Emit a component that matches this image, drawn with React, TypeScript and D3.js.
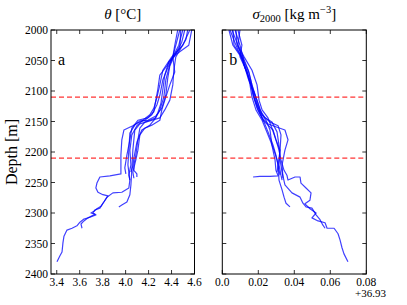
import React from "react";
import * as d3 from "d3";

type Pt = [number, number]; // [depth, value]

const thetaTicks = [3.4, 3.6, 3.8, 4.0, 4.2, 4.4, 4.6];
const sigmaTicks = [0.0, 0.02, 0.04, 0.06, 0.08];
const sigmaTickLabels = ["0.0", "0.02", "0.04", "0.06", "0.08"];
const depthTicks = [2000, 2050, 2100, 2150, 2200, 2250, 2300, 2350, 2400];
const refDepths = [2110, 2210];

const theta1: Pt[] = [[2000,4.472],[2025,4.437],[2044,4.411],[2062,4.367],[2082,4.324],[2107,4.298],[2123,4.272],[2139,4.228],[2148,4.167],[2152,4.107],[2157,4.063],[2164,3.985],[2180,3.967],[2205,3.959],[2230,3.959],[2236,3.959],[2239,3.863],[2241,3.776],[2251,3.750],[2259,3.741],[2266,3.759],[2270,3.802],[2272,3.846],[2277,3.828],[2284,3.802],[2292,3.776],[2295,3.733],[2300,3.715],[2303,3.741],[2307,3.689],[2310,3.637],[2315,3.602],[2321,3.576],[2325,3.533],[2328,3.489],[2338,3.463],[2349,3.454],[2364,3.446],[2370,3.428],[2380,3.402]];
const theta2: Pt[] = [[2000,4.515],[2020,4.489],[2044,4.420],[2059,4.385],[2079,4.367],[2107,4.350],[2128,4.315],[2141,4.263],[2148,4.193],[2149,4.124],[2156,4.080],[2169,4.037],[2197,4.028],[2221,4.020],[2246,4.037],[2259,4.028],[2266,3.967],[2267,3.889],[2274,3.837],[2282,3.811],[2289,3.785],[2293,3.750],[2297,3.724],[2300,3.698],[2302,3.733],[2308,3.672],[2313,3.637],[2318,3.611],[2325,3.620]];
const theta3: Pt[] = [[2000,4.541],[2016,4.524],[2044,4.437],[2066,4.420],[2090,4.411],[2115,4.385],[2131,4.341],[2144,4.298],[2149,4.211],[2154,4.124],[2164,4.080],[2197,4.063],[2230,4.054],[2254,4.046],[2270,4.037],[2282,4.011],[2287,3.967],[2290,3.941]];
const theta4: Pt[] = [[2000,4.576],[2025,4.550],[2044,4.411],[2057,4.385],[2082,4.350],[2110,4.333],[2131,4.298],[2144,4.263],[2151,4.167],[2161,4.124],[2180,4.107],[2205,4.089],[2221,4.072],[2230,4.072],[2236,4.098],[2241,4.098]];
const theta5: Pt[] = [[2000,4.559],[2025,4.498],[2044,4.402],[2066,4.324],[2090,4.298],[2111,4.272],[2128,4.246],[2139,4.211],[2148,4.150],[2157,4.098],[2172,4.054],[2197,4.037],[2221,4.046],[2238,4.028],[2246,4.037]];
const theta6: Pt[] = [[2000,4.498],[2025,4.463],[2044,4.411],[2069,4.428],[2090,4.385],[2110,4.350],[2131,4.315],[2148,4.298],[2156,4.228],[2161,4.167],[2172,4.124],[2197,4.107],[2213,4.089],[2233,4.063],[2243,4.072]];
const theta7: Pt[] = [[2000,4.454],[2025,4.428],[2044,4.411],[2059,4.359],[2074,4.298],[2098,4.280],[2115,4.263],[2134,4.246],[2144,4.193],[2148,4.107],[2161,4.054],[2180,4.037],[2205,4.011],[2226,3.993],[2236,4.002]];
const theta8: Pt[] = [[2000,4.480],[2030,4.472],[2044,4.420],[2052,4.376],[2074,4.341],[2098,4.324],[2121,4.307],[2136,4.280],[2146,4.254],[2156,4.211],[2164,4.141],[2184,4.098],[2210,4.072],[2223,4.063],[2233,4.046]];

const sigma1: Pt[] = [[2000,.0043],[2025,.0076],[2044,.0104],[2066,.0132],[2090,.0159],[2110,.0176],[2131,.0198],[2148,.0226],[2156,.0254],[2164,.0282],[2180,.0298],[2197,.0315],[2213,.0326],[2230,.0343],[2238,.0359],[2246,.0365],[2241,.0404],[2241,.0432],[2251,.0437],[2259,.0465],[2267,.0493],[2279,.0487],[2285,.0459],[2293,.0487],[2300,.0521],[2308,.0498],[2313,.0532],[2316,.0571],[2325,.0582],[2325,.0621],[2334,.0643],[2344,.0654],[2357,.0665],[2367,.0676],[2380,.0698]];
const sigma2: Pt[] = [[2000,.0054],[2025,.0087],[2044,.0109],[2066,.0143],[2090,.0165],[2110,.0187],[2131,.0209],[2144,.0237],[2151,.0276],[2167,.0304],[2189,.0315],[2213,.0321],[2233,.0332],[2254,.0348],[2267,.0387],[2274,.0432],[2284,.0448],[2290,.0465],[2292,.0498],[2303,.0521],[2311,.0543],[2320,.0559],[2325,.0571]];
const sigma3: Pt[] = [[2000,.0071],[2025,.0098],[2044,.0115],[2069,.0148],[2098,.0171],[2115,.0193],[2139,.0221],[2151,.0265],[2157,.0310],[2172,.0326],[2197,.0321],[2221,.0310],[2246,.0315],[2262,.0332],[2274,.0343],[2284,.0354],[2290,.0376]];
const sigma4: Pt[] = [[2000,.0087],[2025,.0109],[2044,.0098],[2069,.0137],[2095,.0165],[2115,.0182],[2134,.0209],[2148,.0243],[2164,.0265],[2189,.0276],[2213,.0293],[2230,.0298],[2239,.0310],[2240,.0265],[2240,.0209],[2241,.0171]];
const sigma5: Pt[] = [[2000,.0098],[2025,.0087],[2044,.0121],[2066,.0165],[2090,.0193],[2115,.0204],[2131,.0221],[2144,.0254],[2161,.0276],[2180,.0298],[2197,.0321],[2221,.0315],[2238,.0326],[2246,.0332]];
const sigma6: Pt[] = [[2000,.0059],[2025,.0065],[2044,.0109],[2062,.0126],[2082,.0154],[2107,.0171],[2128,.0193],[2144,.0221],[2154,.0254],[2164,.0348],[2180,.0365],[2197,.0348],[2221,.0332],[2243,.0337]];
const sigma7: Pt[] = [[2000,.0037],[2025,.0059],[2044,.0104],[2066,.0137],[2090,.0154],[2110,.0165],[2131,.0187],[2148,.0221],[2164,.0243],[2180,.0265],[2197,.0287],[2213,.0304],[2230,.0315],[2238,.0321]];
const sigma8: Pt[] = [[2000,.0076],[2025,.0082],[2044,.0115],[2057,.0121],[2079,.0143],[2102,.0176],[2121,.0193],[2139,.0215],[2151,.0232],[2167,.0254],[2189,.0282],[2205,.0298],[2221,.0310],[2233,.0304]];

const thetaProfiles = [theta1, theta2, theta3, theta4, theta5, theta6, theta7, theta8];
const sigmaProfiles = [sigma1, sigma2, sigma3, sigma4, sigma5, sigma6, sigma7, sigma8];

const W = 407, H = 305;
const TOP = 30, BOTTOM = 274;
const FONT = "'Liberation Serif', 'DejaVu Serif', serif";

const y = d3.scaleLinear().domain([2000, 2400]).range([TOP, BOTTOM]);
const xT = d3.scaleLinear().domain([3.35, 4.6]).range([51, 194.5]);
const xS = d3.scaleLinear().domain([0, 0.08]).range([222.3, 366.3]);

function Panel({ x, profiles, ticks, tickLabels, id, letter, showY }: any) {
  const [x0, x1] = x.range();
  const line = d3.line<Pt>().x((d) => x(d[1])).y((d) => y(d[0]));
  const tl = 4;
  return (
    <g>
      <defs>
        <clipPath id={id}>
          <rect x={x0} y={TOP} width={x1 - x0} height={BOTTOM - TOP} />
        </clipPath>
      </defs>
      <g clipPath={`url(#${id})`}>
        {profiles.map((p: Pt[], i: number) => (
          <path key={i} d={line(p) || ""} fill="none" stroke="#0000ff" strokeOpacity={0.75} strokeWidth={1.2} strokeLinejoin="round" />
        ))}
        {refDepths.map((d, i) => (
          <line key={i} x1={x0} x2={x1} y1={y(d)} y2={y(d)} stroke="#ff0000" strokeWidth={1} strokeDasharray="5,3" />
        ))}
      </g>
      {ticks.map((t: number, i: number) => (
        <g key={i}>
          <line x1={x(t)} x2={x(t)} y1={BOTTOM} y2={BOTTOM - tl} stroke="#000" strokeWidth={0.8} />
          <line x1={x(t)} x2={x(t)} y1={TOP} y2={TOP + tl} stroke="#000" strokeWidth={0.8} />
          <text x={x(t)} y={BOTTOM + 12} fontSize={11.5} fontFamily={FONT} textAnchor="middle">{tickLabels[i]}</text>
        </g>
      ))}
      {depthTicks.map((d, i) => (
        <g key={i}>
          <line x1={x0} x2={x0 + tl} y1={y(d)} y2={y(d)} stroke="#000" strokeWidth={0.8} />
          <line x1={x1} x2={x1 - tl} y1={y(d)} y2={y(d)} stroke="#000" strokeWidth={0.8} />
          {showY && (
            <text x={x0 - 3} y={y(d) + 4} fontSize={11.5} fontFamily={FONT} textAnchor="end">{d}</text>
          )}
        </g>
      ))}
      <rect x={x0} y={TOP} width={x1 - x0} height={BOTTOM - TOP} fill="none" stroke="#000" strokeWidth={1} />
      <text x={x0 + 7} y={y(2045) + 8} fontSize={16} fontFamily={FONT}>{letter}</text>
    </g>
  );
}

export default function App() {
  const cT = (xT.range()[0] + xT.range()[1]) / 2;
  const cS = (xS.range()[0] + xS.range()[1]) / 2;
  return (
    <svg width={W} height={H} style={{ position: "absolute", left: 0, top: 0, background: "#fff" }}>
      <Panel x={xT} profiles={thetaProfiles} ticks={thetaTicks} tickLabels={thetaTicks.map((t) => t.toFixed(1))} id="clipT" letter="a" showY={true} />
      <Panel x={xS} profiles={sigmaProfiles} ticks={sigmaTicks} tickLabels={sigmaTickLabels} id="clipS" letter="b" showY={false} />
      <text x={cT} y={19} fontSize={15} fontFamily={FONT} textAnchor="middle">
        <tspan fontStyle="italic">θ</tspan> [°C]
      </text>
      <text x={cS} y={19} fontSize={15} fontFamily={FONT} textAnchor="middle">
        <tspan fontStyle="italic">σ</tspan>
        <tspan fontSize={10.5} dy={3}>2000</tspan>
        <tspan dy={-3}> [kg m</tspan>
        <tspan fontSize={10.5} dy={-6}>−3</tspan>
        <tspan dy={6}>]</tspan>
      </text>
      <text x={386} y={297} fontSize={11} fontFamily={FONT} textAnchor="end">+36.93</text>
      <text transform={`translate(17, ${(TOP + BOTTOM) / 2}) rotate(-90)`} fontSize={16} fontFamily={FONT} textAnchor="middle">Depth [m]</text>
    </svg>
  );
}
